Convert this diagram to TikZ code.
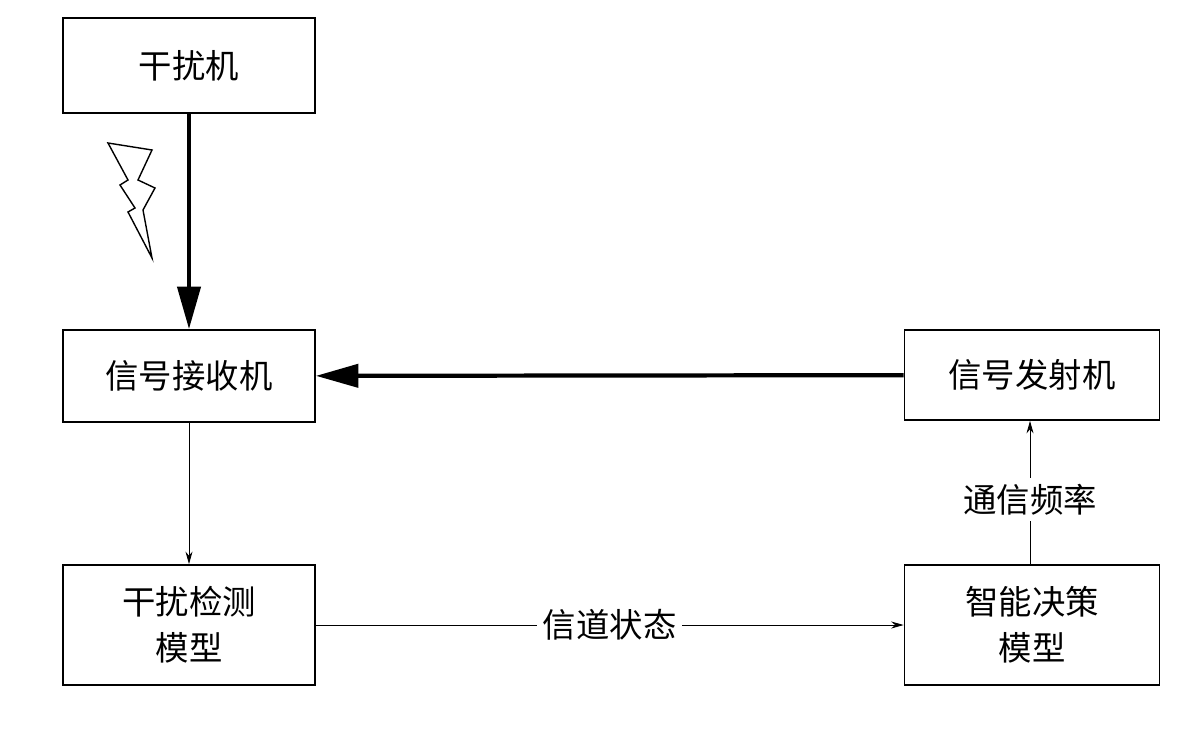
\documentclass[tikz,border=0pt]{standalone}
\usepackage{fontspec}
\setmainfont{Noto Sans CJK SC}
\usetikzlibrary{arrows.meta,positioning}
\begin{document}
\begin{tikzpicture}[every node/.append style={font=\fontsize{19}{26}\selectfont},
    box/.style={draw, line width=1pt, minimum width=5.04cm, align=center},
    big/.style={line width=2.4pt, -{Triangle[length=0.85cm,width=0.46cm]}},
    thin/.style={line width=0.5pt, -{Stealth[length=0.25cm,width=0.14cm]}}]
    \useasboundingbox (0,0) rectangle (24,14.68);
    \node[box, minimum height=1.9cm] (jam) at (3.78,13.37) {干扰机};
    \node[box, minimum height=1.84cm] (rx) at (3.78,7.16) {信号接收机};
    \node[box, minimum height=2.4cm] (det) at (3.78,2.18) {干扰检测\\模型};
    \node[box, minimum width=5.1cm, minimum height=1.8cm] (tx) at (20.64,7.18) {信号发射机};
    \node[box, minimum width=5.1cm, minimum height=2.4cm] (dec) at (20.64,2.18) {智能决策\\模型};
    \draw[big] (jam) -- (rx);
    \draw[big] (tx) -- (rx);
    \draw[thin] (rx) -- (det);
    \draw[thin] (det) -- node[fill=white] (chan) {信道状态} (dec);
    \draw[thin] (dec.north -| 20.6,0) -- node[fill=white, pos=0.45] (freq) {通信频率} (tx.south -| 20.6,0);
    % lightning
    \draw[line width=0.8pt, line join=miter]
      (2.16,11.82) -- (3.04,11.68) -- (2.76,11.08) -- (3.10,10.92) -- (2.86,10.48)
      -- (3.04,9.52) -- (2.56,10.44) -- (2.70,10.52) -- (2.40,10.98) -- (2.56,11.08) -- cycle;
\end{tikzpicture}
\end{document}
